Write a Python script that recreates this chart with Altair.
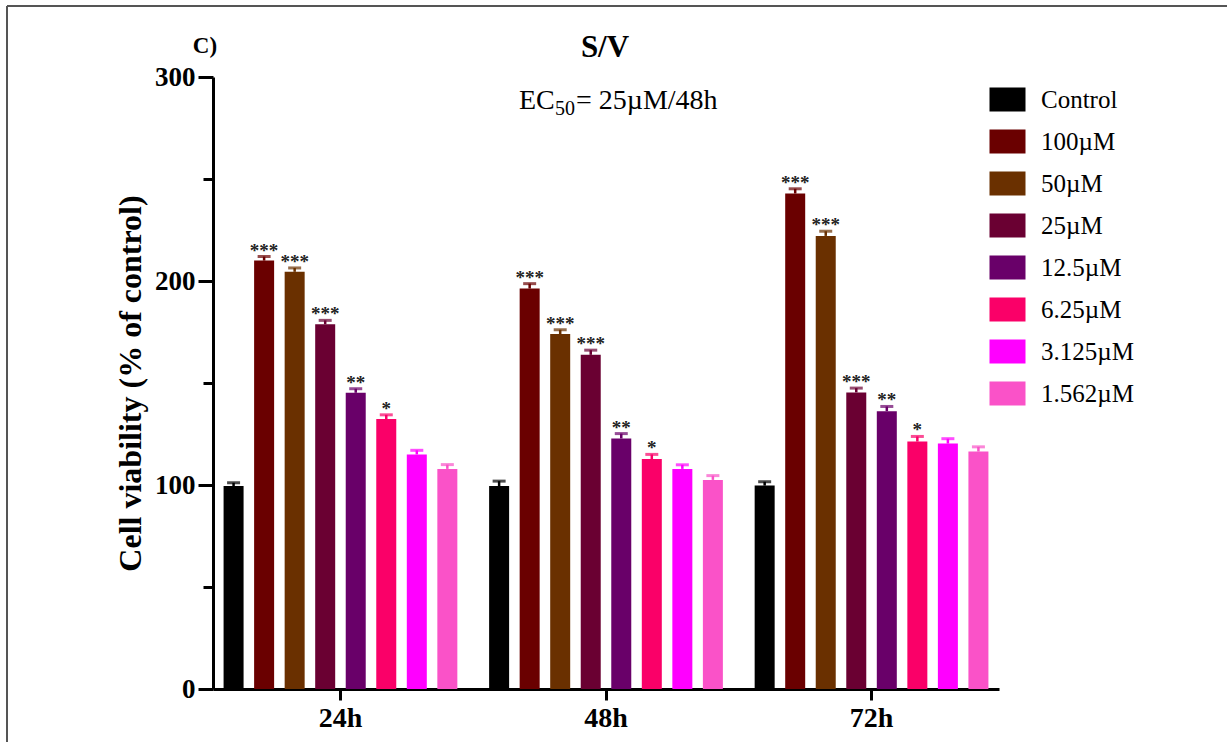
import altair as alt
import pandas as pd

times = ["24h", "48h", "72h"]
concs = ["Control", "100µM", "50µM", "25µM", "12.5µM", "6.25µM", "3.125µM", "1.562µM"]
colors = ["#000000", "#6a0000", "#6a3000", "#6a0032", "#690069", "#fa0068", "#ff00ff", "#fa52c8"]

mean_24 = [99.5, 210.0, 204.5, 178.8, 145.2, 132.3, 115.0, 107.9]
err_24 = [1.6, 2.0, 1.9, 1.9, 2.0, 2.1, 2.0, 2.1]
mean_48 = [99.5, 196.3, 174.0, 163.8, 122.8, 112.7, 107.9, 102.5]
err_48 = [2.4, 2.4, 2.1, 2.3, 2.4, 2.3, 2.0, 2.1]
mean_72 = [99.7, 242.9, 222.1, 145.4, 136.2, 121.3, 120.3, 116.4]
err_72 = [1.9, 2.3, 2.3, 2.1, 2.3, 2.5, 2.4, 2.3]
sig_24 = ["", "***", "***", "***", "**", "*", "", ""]
sig_48 = ["", "***", "***", "***", "**", "*", "", ""]
sig_72 = ["", "***", "***", "***", "**", "*", "", ""]

rows = []
for t, m, e, s in [("24h", mean_24, err_24, sig_24), ("48h", mean_48, err_48, sig_48), ("72h", mean_72, err_72, sig_72)]:
    for c, mv, ev, sv in zip(concs, m, e, s):
        rows.append({"time": t, "conc": c, "mean": mv, "upper": mv + ev, "sig": sv})
df = pd.DataFrame(rows)

SERIF = "Liberation Serif"

x_enc = alt.X("time:N", sort=times,
              scale=alt.Scale(paddingInner=0.08, paddingOuter=0.02),
              axis=alt.Axis(title=None, labelFont=SERIF, labelFontWeight="bold", labelFontSize=28,
                            labelColor="black", labelPadding=4, labelAngle=0,
                            domainColor="black", domainWidth=3, tickColor="black",
                            tickWidth=3, tickSize=11))
xoff = alt.XOffset("conc:N", sort=concs, scale=alt.Scale(paddingInner=0.345, paddingOuter=0.1725))
y_enc = alt.Y("mean:Q", scale=alt.Scale(domain=[0, 300], nice=False),
              axis=alt.Axis(title="Cell viability (% of control)", values=[0, 50, 100, 150, 200, 250, 300],
                            labelExpr="datum.value % 100 === 0 ? datum.label : ''",
                            labelFont=SERIF, labelFontWeight="bold", labelFontSize=27, labelColor="black",
                            labelPadding=3, domainColor="black", domainWidth=3, tickColor="black",
                            tickWidth=3,
                            tickSize={"condition": {"test": "datum.value % 100 !== 0", "value": 10}, "value": 15},
                            grid=False,
                            titleFont=SERIF, titleFontWeight="bold", titleFontSize=32, titleColor="black",
                            titleX=-83, titleY=306, titleBaseline="middle", titleAlign="center",
                            titleAngle=270))
color_enc = alt.Color("conc:N", sort=concs, scale=alt.Scale(domain=concs, range=colors),
                      legend=alt.Legend(title=None, orient="none", legendX=782, legendY=10,
                                        symbolType="M-1.5,-1H1.5V1H-1.5Z", symbolSize=576,
                                        symbolStrokeWidth=0, symbolOpacity=1,
                                        labelFont=SERIF, labelFontSize=25, labelColor="black",
                                        labelOffset=21, rowPadding=16, labelLimit=250))

base = alt.Chart(df)

bars = base.mark_bar(width={"band": 1}).encode(x=x_enc, xOffset=xoff, y=y_enc, color=color_enc)
err_line = base.mark_rule(strokeWidth=2.5).encode(
    x=alt.X("time:N", sort=times), xOffset=xoff, y="mean:Q", y2="upper:Q",
    color=alt.Color("conc:N", sort=concs, legend=None))
err_cap = base.mark_tick(orient="horizontal", size=13, thickness=3).encode(
    x=alt.X("time:N", sort=times), xOffset=xoff, y="upper:Q",
    color=alt.Color("conc:N", sort=concs, legend=None))
stars = base.mark_text(font=SERIF, fontWeight="bold", fontSize=19, baseline="alphabetic",
                       dy=0, color="#222222").encode(
    x=alt.X("time:N", sort=times), xOffset=xoff, y="upper:Q", text="sig:N")

ann = pd.DataFrame({"k": [0]})
label_c = alt.Chart(ann).mark_text(text="C)", font=SERIF, fontWeight="bold", fontSize=23,
                                   align="center", baseline="alphabetic", color="black").encode(
    x=alt.value(-8), y=alt.value(-24))
title_sv = alt.Chart(ann).mark_text(text="S/V", font=SERIF, fontWeight="bold", fontSize=31,
                                    align="center", baseline="alphabetic", color="black").encode(
    x=alt.value(392), y=alt.value(-20))
ec_a = alt.Chart(ann).mark_text(text="EC", font=SERIF, fontSize=28, align="left",
                                baseline="alphabetic", color="black").encode(
    x=alt.value(306), y=alt.value(32))
ec_b = alt.Chart(ann).mark_text(text="50", font=SERIF, fontSize=20, align="left",
                                baseline="alphabetic", color="black").encode(
    x=alt.value(342), y=alt.value(38))
ec_c = alt.Chart(ann).mark_text(text="= 25µM/48h", font=SERIF, fontSize=28, align="left",
                                baseline="alphabetic", color="black").encode(
    x=alt.value(363), y=alt.value(32))
frame_top = alt.Chart(ann).mark_rule(color="#555555", strokeWidth=2).encode(
    x=alt.value(-206), x2=alt.value(1014), y=alt.value(-71))
frame_left = alt.Chart(ann).mark_rule(color="#555555", strokeWidth=2).encode(
    x=alt.value(-206), y=alt.value(-71), y2=alt.value(665))

chart = alt.layer(bars, err_line, err_cap, stars, label_c, title_sv, ec_a, ec_b, ec_c,
                  frame_top, frame_left).properties(
    width=786, height=612,
    autosize=alt.AutoSizeParams(type="none"),
    padding={"left": 213, "top": 77, "right": 228, "bottom": 53},
).configure(background="white").configure_view(stroke=None)

chart.save("out.html", embed_options={"renderer": "svg", "actions": False})
